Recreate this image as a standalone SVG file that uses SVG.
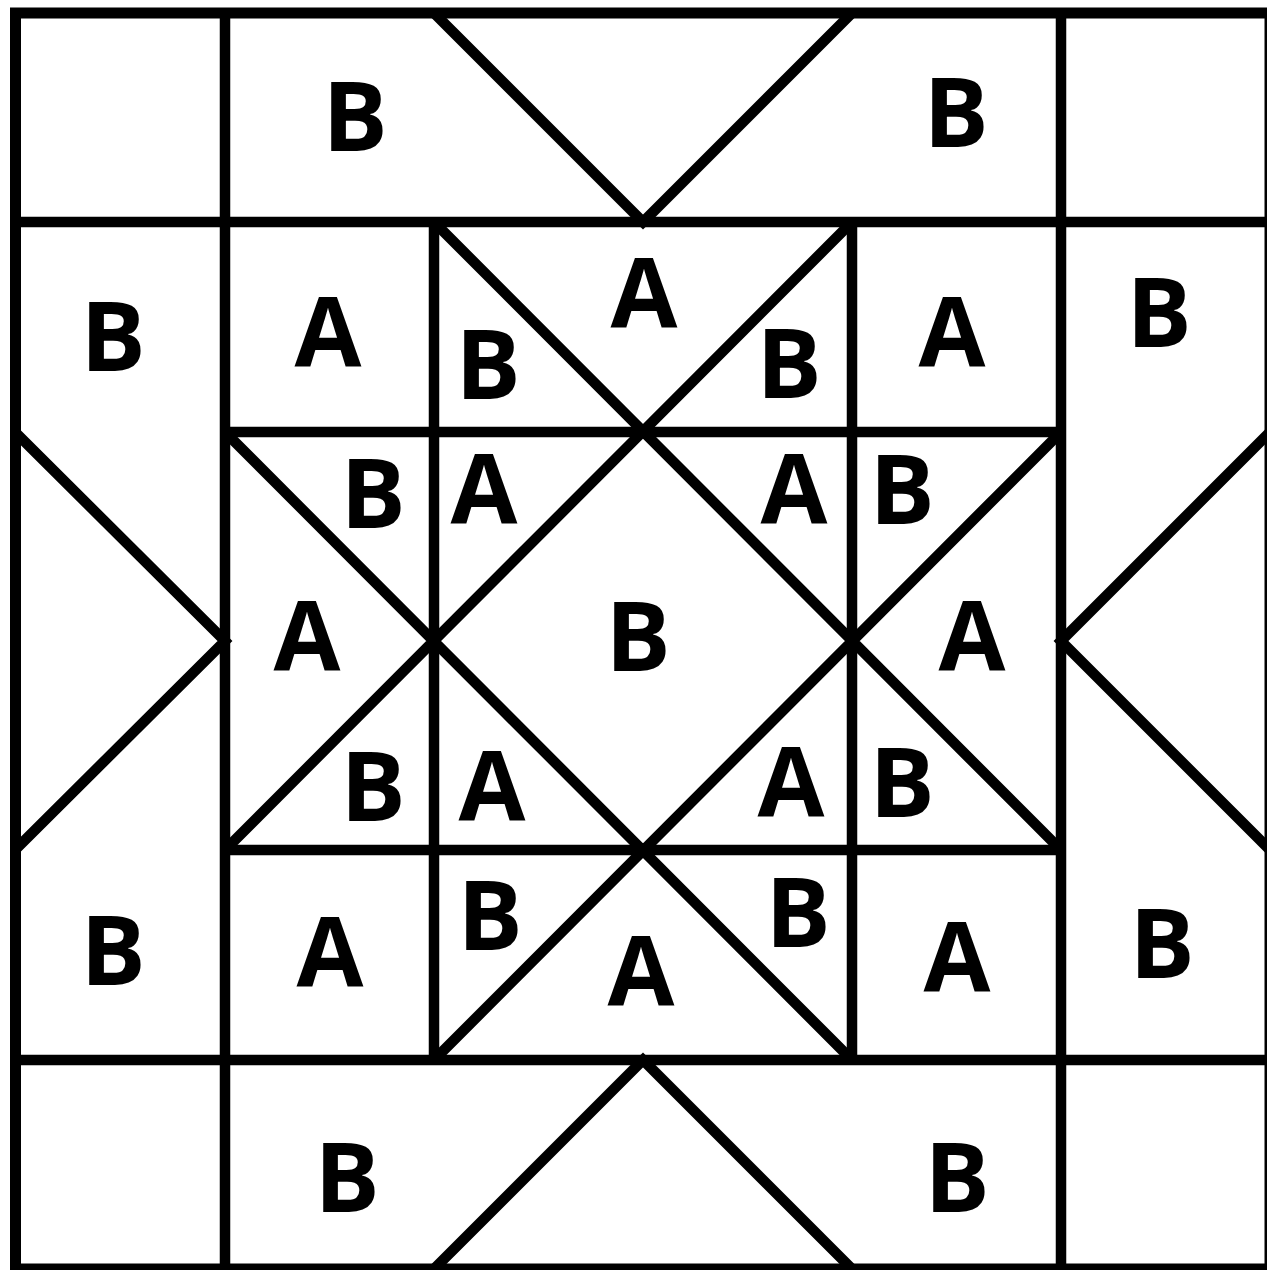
<svg xmlns="http://www.w3.org/2000/svg" width="1267" height="1270" viewBox="0 0 1267 1270">
<style>
.ln{fill:none;stroke:#000;stroke-width:10.5;stroke-linecap:butt;stroke-linejoin:miter}
.bd{fill:none;stroke:#000;stroke-width:11}
text{font-family:"Open Sans","Noto Sans","Liberation Sans",sans-serif;font-weight:700;font-size:97px;text-anchor:middle;fill:#000}
</style>
<rect width="1267" height="1270" fill="#fff"/>
<g id="lines">
<rect class="bd" x="15.5" y="13" width="1254.5" height="1256"/>
<path class="ln" d="M225 13V1269 M1061 13V1269 M15 222H1270 M15 1060H1270 M434 222V1060 M852 222V1060 M225 432H1061 M225 850H1061"/>
<path class="ln" d="M434 13L643 222L852 13 M434 1269L643 1060L852 1269 M15 432L225 641L15 850 M1270 432L1061 641L1270 850"/>
<path class="ln" d="M434 222L1061 850 M852 222L225 850 M225 432L852 1060 M1061 432L434 1060"/>
</g>
<g id="labels">
<text x="355" y="151">B</text>
<text x="956" y="147">B</text>
<text x="113" y="371">B</text>
<text x="328" y="367">A</text>
<text x="488" y="399">B</text>
<text x="644" y="328">A</text>
<text x="789" y="398">B</text>
<text x="952" y="367">A</text>
<text x="1159" y="347">B</text>
<text x="373" y="528">B</text>
<text x="484" y="524">A</text>
<text x="794" y="524">A</text>
<text x="902" y="524">B</text>
<text x="307" y="671">A</text>
<text x="638" y="671">B</text>
<text x="972" y="671">A</text>
<text x="373" y="821">B</text>
<text x="492" y="821">A</text>
<text x="791" y="817">A</text>
<text x="902" y="817">B</text>
<text x="113" y="985">B</text>
<text x="330" y="987">A</text>
<text x="490" y="950">B</text>
<text x="641" y="1006">A</text>
<text x="798" y="947">B</text>
<text x="957" y="992">A</text>
<text x="1162" y="978">B</text>
<text x="347" y="1212">B</text>
<text x="957" y="1212">B</text>
</g>
</svg>
